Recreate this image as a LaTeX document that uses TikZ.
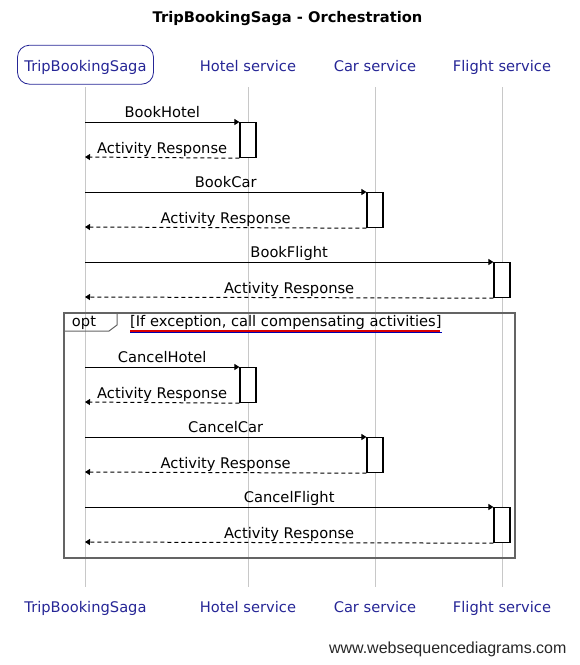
\documentclass[tikz,border=0pt]{standalone}
\usepackage{fontspec}
\setmainfont{DejaVu Sans}
\newfontfamily\wsdfont{Liberation Sans}
\usetikzlibrary{arrows.meta,positioning}
\definecolor{partblue}{RGB}{38,38,150}
\definecolor{lifegray}{RGB}{200,200,200}
\definecolor{framegray}{RGB}{100,100,100}
\newcommand{\fs}{\fontsize{14.67}{17}\selectfont}

\tikzset{
  part/.style={text=partblue, font=\fs, text height=14pt, text depth=0pt,
    minimum height=39pt, inner xsep=7pt, outer sep=3pt},
  partbot/.style={part, minimum height=30pt},
  msg/.style={font=\fs, text height=11pt, text depth=3pt, inner sep=1pt},
  actbox/.style={draw, fill=white, line width=1.2pt, minimum width=16pt,
    minimum height=35pt, inner sep=0pt, anchor=north},
  lifeline/.style={draw=lifegray, line width=1pt},
  call/.style={-{Triangle[length=5pt,width=6pt]}, line width=1pt},
  reply/.style={call, dash pattern=on 4pt off 3pt}
}

\begin{document}
\begin{tikzpicture}[x=1pt, y=-1pt]
  		\useasboundingbox (0,0) rectangle (580,665);
  		\path (287.5,19) node (title) {\fs\bfseries TripBookingSaga - Orchestration}
        		(85.5,64.7) node [part, draw=partblue, line width=0.8pt, rounded corners=12pt] (tripTop) {TripBookingSaga}
        		(248,64.7) node [part] (hotelTop) {Hotel service}
        		(375,64.7) node [part] (carTop) {Car service}
        		(502,64.7) node [part] (flightTop) {Flight service}
        		(85.5,605.3) node [partbot] (tripBot) {TripBookingSaga}
        		(248,605.3) node [partbot] (hotelBot) {Hotel service}
        		(375,605.3) node [partbot] (carBot) {Car service}
        		(502,605.3) node [partbot] (flightBot) {Flight service}
        		(570,649) node [anchor=east, font=\wsdfont\fontsize{16}{18}\selectfont, text=black!85] (wsd) {www.websequencediagrams.com};
  		\draw [lifeline] (tripTop.south -| 85,0) to (tripBot.north -| 85,0);
  		\draw [lifeline] (hotelTop) to (hotelBot);
  		\draw [lifeline] (carTop) to (carBot);
  		\draw [lifeline] (flightTop) to (flightBot);
		% opt frame
		\draw [framegray, line width=1.4pt] (64,313) rectangle (515,558);
		\draw [framegray, line width=1pt] (64,331) -- (109,331) -- (117,325) -- (117,313);
		\path (84,322) node [msg] (opt) {opt}
        		(130,322) node [msg, anchor=west, inner sep=0pt] (cond) {[If exception, call compensating activities]};
		\draw [red!85!black, line width=1.8pt] ([yshift=-1.5pt]cond.south west) -- ([yshift=-1.5pt,xshift=-2pt]cond.south east);
		\draw [blue!70!black, line width=0.8pt] ([yshift=-2.9pt]cond.south west) -- ([yshift=-2.9pt]cond.south east);
		% activations
		\path (248,122) node [actbox] (bookHotel) {}
        		(375,192) node [actbox] (bookCar) {}
        		(502,262) node [actbox] (bookFlight) {}
        		(248,367) node [actbox] (cancelHotel) {}
        		(375,437) node [actbox] (cancelCar) {}
        		(502,507) node [actbox] (cancelFlight) {};
		\coordinate (bh) at (85,122);  \coordinate (bhr) at (85,157);
		\coordinate (bc) at (85,192);  \coordinate (bcr) at (85,227);
		\coordinate (bf) at (85,262);  \coordinate (bfr) at (85,297);
		\coordinate (ch) at (85,367);  \coordinate (chr) at (85,402);
		\coordinate (cc) at (85,437);  \coordinate (ccr) at (85,472);
		\coordinate (cf) at (85,507);  \coordinate (cfr) at (85,542);
		\draw [call] (bh) to node [msg, above] {BookHotel} (bookHotel.north west);
		\draw [reply] (bookHotel.south west) to node [msg, above] {Activity Response} (bhr);
		\draw [call] (bc) to node [msg, above] {BookCar} (bookCar.north west);
		\draw [reply] (bookCar.south west) to node [msg, above] {Activity Response} (bcr);
		\draw [call] (bf) to node [msg, above] {BookFlight} (bookFlight.north west);
		\draw [reply] (bookFlight.south west) to node [msg, above] {Activity Response} (bfr);
		\draw [call] (ch) to node [msg, above] {CancelHotel} (cancelHotel.north west);
		\draw [reply] (cancelHotel.south west) to node [msg, above] {Activity Response} (chr);
		\draw [call] (cc) to node [msg, above] {CancelCar} (cancelCar.north west);
		\draw [reply] (cancelCar.south west) to node [msg, above] {Activity Response} (ccr);
		\draw [call] (cf) to node [msg, above] {CancelFlight} (cancelFlight.north west);
		\draw [reply] (cancelFlight.south west) to node [msg, above] {Activity Response} (cfr);
\end{tikzpicture}
\end{document}
